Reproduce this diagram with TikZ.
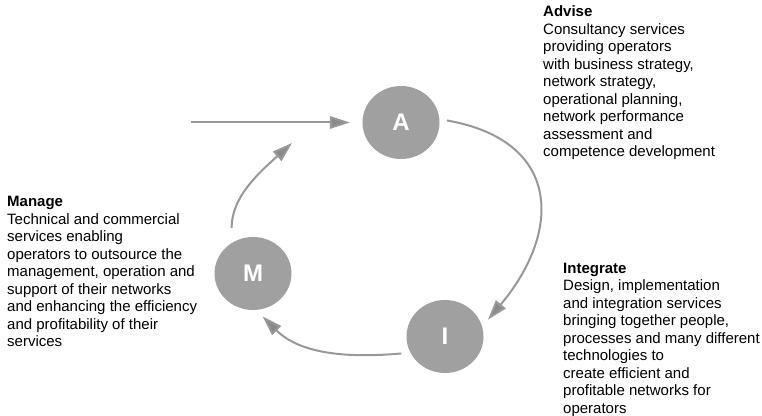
\documentclass[tikz,border=0pt]{standalone}
\usepackage{fontspec}
\setmainfont{Liberation Sans}
\usetikzlibrary{arrows.meta,shapes.geometric}
\definecolor{stagegray}{RGB}{160,160,160}
\definecolor{linegray}{RGB}{152,152,152}
\definecolor{headgray}{RGB}{138,138,138}
\tikzset{
    stage/.style={ellipse, fill=stagegray, minimum width=77pt, minimum height=73pt, inner sep=0pt, text=white, font=\fontsize{24}{24}\selectfont\bfseries},
    flow/.style={draw=linegray, line width=2pt, -{Triangle[length=20pt,width=12.5pt,fill=headgray]}},
    desc/.style={anchor=north west, align=left, inner sep=0pt, font=\fontsize{15}{17.5}\selectfont}
}
\begin{document}
\begin{tikzpicture}
  [
    x = 1pt,
    y = 1pt,
  ]
  \useasboundingbox (0,0) rectangle (762,415);
  \node [stage] (adv) at (401,292.5) {A};
  \node [stage] (man) at (253,141.5) {M};
  \node [stage] (int) at (445,78.5) {I};
  \coordinate (src) at (191,292.5);
  \coordinate (toadv) at (292,272);
  \draw [flow, shorten >=12.5pt] (src) -- (adv);
  \draw [flow, shorten <=7.5pt, shorten >=9pt] (adv.5) to [out=-10, in=50, looseness=1.5] (int.15);
  \draw [flow, shorten <=9pt, shorten >=9pt] (int.205) to [out=185, in=-45] (man.-85);
  \draw [flow, shorten <=15pt] (man.125) to [out=90, in=-138] (toadv);
  \node [desc] (advtext) at (543,409.5) {\textbf{Advise}\\Consultancy services\\providing operators\\with business strategy,\\network strategy,\\operational planning,\\network performance\\assessment and\\competence development};
  \node [desc] (mantext) at (7,219) {\textbf{Manage}\\Technical and commercial\\services enabling\\operators to outsource the\\management, operation and\\support of their networks\\and enhancing the efficiency\\and profitability of their\\services};
  \node [desc] (inttext) at (563,152.5) {\textbf{Integrate}\\Design, implementation\\and integration services\\bringing together people,\\processes and many different\\technologies to\\create efficient and\\profitable networks for\\operators};
\end{tikzpicture}
\end{document}
